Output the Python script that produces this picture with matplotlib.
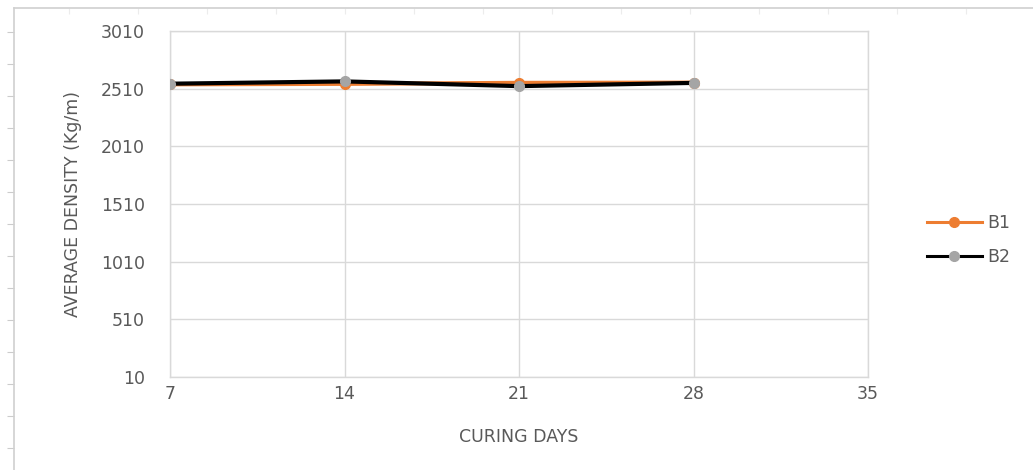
#!/usr/bin/env python3

import matplotlib
matplotlib.use("Agg")
import matplotlib.pyplot as plt
from matplotlib.ticker import MultipleLocator

# values
curing_days = [7, 14, 21, 28]
density_b1 = [2548, 2552, 2560, 2562]
density_b2 = [2553, 2573, 2532, 2560]
x_ticks = [7, 14, 21, 28, 35]
y_ticks = [10, 510, 1010, 1510, 2010, 2510, 3010]

plt.rcParams["font.family"] = ["DejaVu Sans"]

GRID = "#d9d9d9"
TEXT = "#595959"
FS = 12.5

fig = plt.figure(figsize=(10.33, 4.70), dpi=100)

# faint page ruler around the chart (scan artefact)
ruler = fig.add_axes([14 / 1033, 0, 1 - 14 / 1033, 1 - 8 / 470])
ruler.set_xlim(14, 1033)
ruler.set_ylim(470, 8)
ruler.patch.set_alpha(0)
for side in ["right", "bottom"]:
    ruler.spines[side].set_visible(False)
for side in ["top", "left"]:
    ruler.spines[side].set_color("#d0d0d0")
    ruler.spines[side].set_linewidth(1.2)
ruler.xaxis.set_ticks_position("top")
ruler.xaxis.set_major_locator(MultipleLocator(69))
ruler.yaxis.set_major_locator(MultipleLocator(32))
ruler.tick_params(axis="x", direction="in", length=4, color="#ececec", labeltop=False)
ruler.tick_params(axis="y", direction="out", length=5, color="#cccccc", labelleft=False)

ax = fig.add_axes([170 / 1033, 1 - 377 / 470, 698 / 1033, 346 / 470])
ax.plot(curing_days, density_b1, color="#ED7D31", linewidth=3, marker="o",
        markersize=7, label="B1", zorder=3)
ax.plot(curing_days, density_b2, color="#000000", linewidth=3, marker="o",
        markersize=7, markerfacecolor="#A5A5A5", markeredgecolor="#A5A5A5",
        label="B2", zorder=4)

ax.set_xlim(7, 35)
ax.set_ylim(10, 3010)
ax.set_xticks(x_ticks)
ax.set_yticks(y_ticks)
ax.grid(True, color=GRID, linewidth=1)
ax.set_axisbelow(True)
for spine in ax.spines.values():
    spine.set_color(GRID)
    spine.set_linewidth(1)
ax.tick_params(length=0, labelsize=FS, labelcolor=TEXT)
ax.tick_params(axis="y", pad=18)
ax.tick_params(axis="x", pad=6)

ax.set_xlabel("CURING DAYS", fontsize=FS, color=TEXT, labelpad=18)
ax.set_ylabel("AVERAGE DENSITY (Kg/m)", fontsize=FS, color=TEXT, labelpad=14)

leg = fig.legend(loc="center left", bbox_to_anchor=(911 / 1033, 1 - 240 / 470),
                 frameon=False, fontsize=FS, labelcolor=TEXT, handlelength=3.2,
                 handletextpad=0.3, labelspacing=0.9)
for line in leg.get_lines():
    line.set_linewidth(2.2)

fig.savefig("out.png", dpi=100, facecolor="white")
